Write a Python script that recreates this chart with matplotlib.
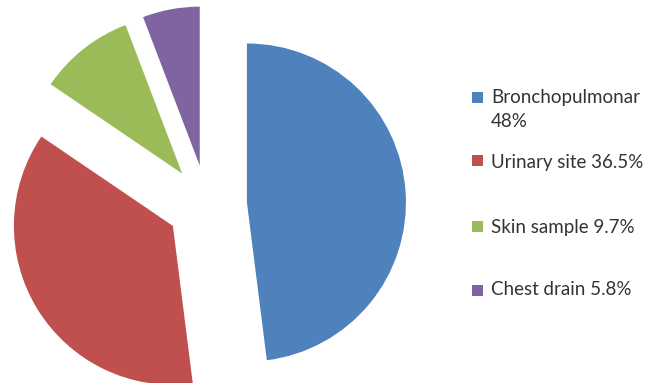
import matplotlib.pyplot as plt
from matplotlib.patches import Rectangle

labels = ['Bronchopulmonar\n48%', 'Urinary site 36.5%', 'Skin sample 9.7%', 'Chest drain 5.8%']
values = [48, 36.5, 9.7, 5.8]
colors = ['#4F81BD', '#C0504D', '#9BBB59', '#8064A2']

W, H = 658, 383
fig = plt.figure(figsize=(W / 100, H / 100), dpi=100)
ax = fig.add_axes([0, 0, 1, 1])

# pie in pixel units (y up)
ax.pie(values, colors=colors, startangle=90, counterclock=False,
       center=(207, H - 205), radius=159, explode=[40] * len(values),
       wedgeprops=dict(linewidth=0))
ax.set_xlim(0, W)
ax.set_ylim(0, H)
ax.set_aspect('equal')
ax.axis('off')

# legend, placed by hand like the original (baseline y of first line, square centre)
leg_base = [103, 168, 233, 295]
leg_sq = [97, 160, 226, 290]
for lab, c, yb, ys in zip(labels, colors, leg_base, leg_sq):
    ax.add_patch(Rectangle((472, H - ys - 5.5), 11, 11, color=c, linewidth=0))
    first, *rest = lab.split('\n')
    ax.text(491, H - yb, first, fontsize=13.5, family='Lato', color='#333333',
            va='baseline', ha='left')
    for i, line in enumerate(rest, 1):
        ax.text(491, H - yb - 24 * i, line, fontsize=13.5, family='Lato',
                color='#333333', va='baseline', ha='left')

fig.savefig('out.png', dpi=100, facecolor='white')
